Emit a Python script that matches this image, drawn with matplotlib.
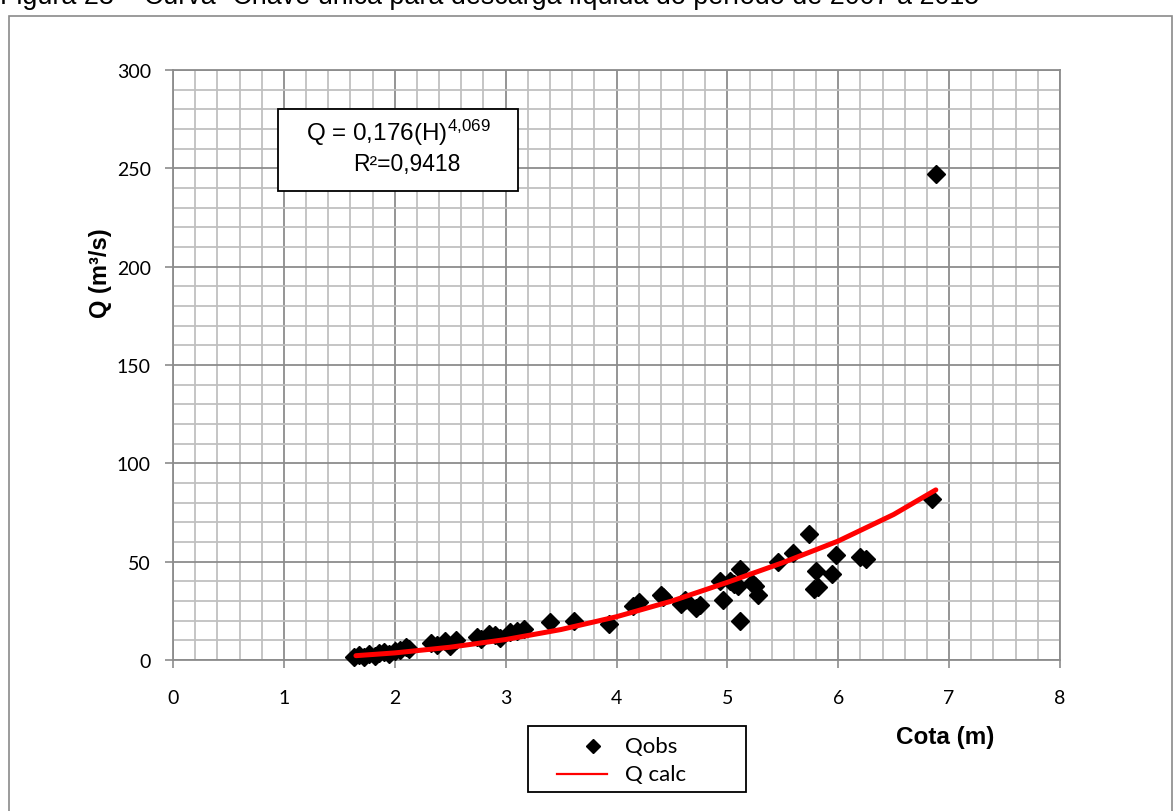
import matplotlib
matplotlib.use("Agg")
import matplotlib.pyplot as plt
from matplotlib.ticker import MultipleLocator
from matplotlib.lines import Line2D
from matplotlib.patches import Rectangle

plt.rcParams["mathtext.fontset"] = "custom"
plt.rcParams["mathtext.rm"] = "Liberation Sans"
plt.rcParams["mathtext.it"] = "Liberation Sans"

# ---- data ----
cota_obs = [1.63, 1.68, 1.72, 1.77, 1.82, 1.86, 1.90, 1.95, 2.00, 2.05, 2.10, 2.13,
            2.33, 2.38, 2.45, 2.50, 2.55, 2.74, 2.78, 2.85, 2.90, 2.95, 3.04, 3.10, 3.17,
            3.40, 3.62, 3.93, 4.15, 4.20, 4.40, 4.42, 4.58, 4.62, 4.72, 4.75,
            4.93, 4.96, 5.02, 5.06, 5.11, 5.10, 5.11, 5.22, 5.25, 5.28,
            5.46, 5.59, 5.74, 5.80, 5.78, 5.82, 5.94, 5.98, 6.20, 6.25, 6.85, 6.88]
q_obs = [1.5, 2.5, 1.5, 3.0, 2.0, 3.5, 4.0, 3.0, 4.5, 5.0, 6.5, 5.5,
         8.5, 7.5, 9.5, 7.0, 10.0, 11.5, 10.5, 13.0, 12.5, 11.0, 14.0, 14.5, 16.0,
         19.2, 20.0, 18.3, 27.6, 29.3, 33.0, 32.0, 28.5, 30.5, 26.5, 28.0,
         40.0, 30.5, 40.0, 38.5, 46.3, 37.8, 20.0, 39.0, 37.5, 33.0,
         50.0, 54.5, 64.0, 45.5, 36.0, 37.0, 43.5, 53.5, 52.5, 51.5, 82.0, 247.0]

cota_calc = [1.65, 2.0, 2.5, 3.0, 3.5, 4.0, 4.5, 5.0, 5.5, 6.0, 6.5, 6.88]
q_calc = [2.2, 3.6, 6.5, 10.4, 15.5, 22.0, 30.0, 39.5, 49.5, 60.5, 74.0, 86.5]

x_ticks = [0, 1, 2, 3, 4, 5, 6, 7, 8]
y_ticks = [0, 50, 100, 150, 200, 250, 300]

title_text = "Figura 23 – Curva- Chave única para descarga líquida do período de 2007 a 2015"
eq_line1 = r"Q = 0,176(H)$^{\mathregular{4{,}069}}$"
eq_line2 = "R²=0,9418"
legend_labels = ["Qobs", "Q calc"]
xlabel = "Cota (m)"
ylabel = "Q (m³/s)"

W, H = 1174, 812
fig = plt.figure(figsize=(W / 100, H / 100), dpi=100)
fig.patch.set_facecolor("white")

def fx(px):
    return px / W

def fy(py):
    return 1 - py / H

# outer frame
fig.patches.append(Rectangle((fx(9), fy(830)), fx(1172) - fx(9), fy(17) - fy(830),
                             transform=fig.transFigure, fill=False,
                             edgecolor="#8a8a8a", linewidth=1.2))

ax = fig.add_axes([fx(173), fy(661), fx(1060) - fx(173), fy(71) - fy(661)])
ax.set_xlim(0, 8)
ax.set_ylim(0, 300)
ax.xaxis.set_minor_locator(MultipleLocator(0.2))
ax.yaxis.set_minor_locator(MultipleLocator(10))
ax.set_xticks(x_ticks)
ax.set_yticks(y_ticks)
ax.grid(which="minor", color="#c0c0c0", linewidth=1.3, zorder=0)
ax.grid(which="major", color="#8c8c8c", linewidth=1.3, zorder=0)
ax.set_axisbelow(True)
for s in ax.spines.values():
    s.set_color("#8c8c8c")
    s.set_linewidth(1.3)

tick_font = "Lato"
ax.tick_params(which="major", direction="out", length=6, width=1.2, color="#8c8c8c",
               labelsize=14, labelcolor="black")
ax.tick_params(axis="x", which="major", pad=15)
ax.tick_params(axis="y", which="major", pad=10)
ax.tick_params(which="minor", length=0)
for lab in ax.get_xticklabels() + ax.get_yticklabels():
    lab.set_fontfamily(tick_font)

ax.plot(cota_obs, q_obs, linestyle="none", marker="D", markersize=9,
        color="black", zorder=3, clip_on=False)
ax.plot(cota_calc, q_calc, color="#ff0000", linewidth=3.6, zorder=4,
        solid_capstyle="round", solid_joinstyle="round")

# equation box
ax.add_patch(Rectangle((fx(278), fy(192)), fx(518) - fx(278), fy(110) - fy(192),
                       transform=fig.transFigure, fill=True, facecolor="white",
                       edgecolor="black", linewidth=1.3, zorder=5))
fig.text(fx(398), fy(133), eq_line1, ha="center", va="center", fontsize=17.5,
         family="Liberation Sans", zorder=6)
fig.text(fx(407), fy(164), eq_line2, ha="center", va="center", fontsize=16.5,
         family="Liberation Sans", zorder=6)

# axis labels
fig.text(fx(100), fy(273), ylabel, rotation=90, ha="center", va="center",
         fontsize=17, fontweight="bold", family="Liberation Sans")
fig.text(fx(945), fy(738), xlabel, ha="center", va="center",
         fontsize=17.5, fontweight="bold", family="Liberation Sans")

# legend (manual layout to match the reference box)
fig.patches.append(Rectangle((fx(528), fy(793)), fx(746) - fx(528), fy(727) - fy(793),
                             transform=fig.transFigure, fill=True, facecolor="white",
                             edgecolor="black", linewidth=1.3))
fig.lines.append(Line2D([fx(593)], [fy(747)], transform=fig.transFigure,
                        linestyle="none", marker="D", markersize=7, color="black"))
fig.lines.append(Line2D([fx(557), fx(607)], [fy(775), fy(775)], transform=fig.transFigure,
                        color="#ff0000", linewidth=1.6))
fig.text(fx(625), fy(747), legend_labels[0], ha="left", va="center",
         fontsize=16, family=tick_font)
fig.text(fx(625), fy(775), legend_labels[1], ha="left", va="center",
         fontsize=16, family=tick_font)

# clipped title at the very top
t = fig.text(0.0, fy(4), title_text, ha="left", va="baseline",
             fontsize=17, family="Liberation Sans", color="black")
fig.canvas.draw()
r = fig.canvas.get_renderer()
wpx = t.get_window_extent(r).width
t.set_fontsize(17 * 980 / wpx)

fig.savefig("out.png", dpi=100, facecolor="white")
